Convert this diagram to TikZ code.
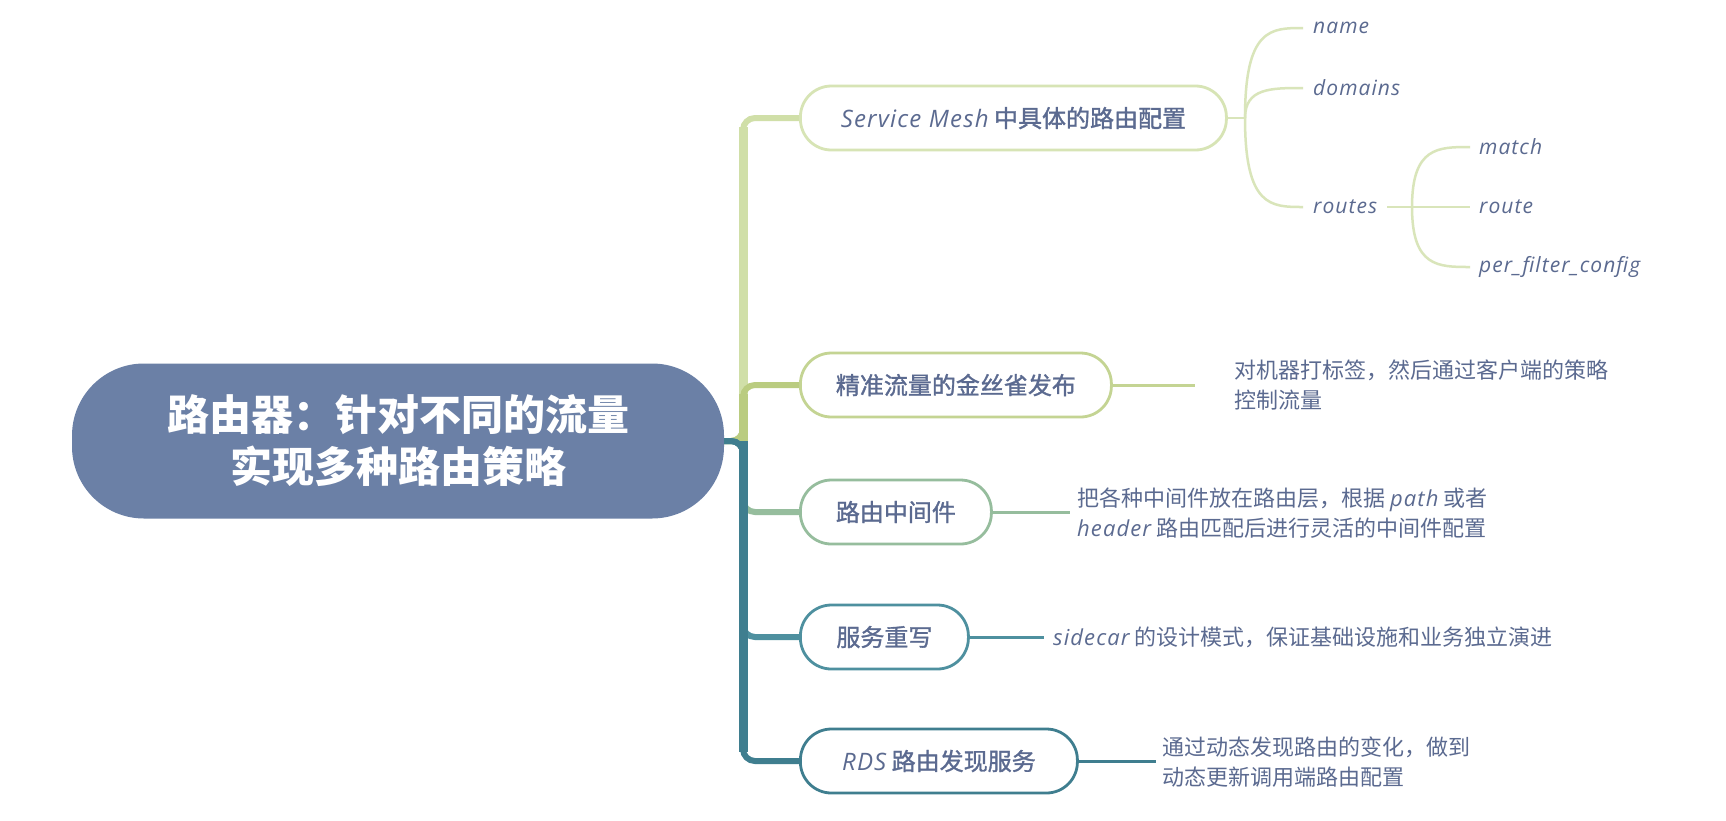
\documentclass[tikz,border=0pt]{standalone}
\usepackage{fontspec}
\setmainfont{Noto Sans CJK SC}
\newfontfamily\lblfont{Noto Sans CJK SC}[FakeBold=1.3]
\newfontfamily\latfont{Open Sans}[LetterSpace=5]
\newcommand\lat[1]{{\latfont\itshape #1}}
\definecolor{rootc}{HTML}{6B80A6}
\definecolor{txtc}{HTML}{5B6A90}
\definecolor{ca}{HTML}{D0DFA8}
\definecolor{cb}{HTML}{BACC80}
\definecolor{cc}{HTML}{96BD9D}
\definecolor{cd}{HTML}{4E909F}
\definecolor{ce}{HTML}{3F7E8F}
\definecolor{subc}{HTML}{D9E5BA}
\tikzset{
  rootbox/.style={fill=rootc, rounded corners=72pt, minimum width=652pt, minimum height=155pt,
    inner sep=0pt, text=white, align=center, font=\fontsize{42}{52}\selectfont\bfseries},
  topic/.style={draw, line width=2.8pt, fill=white, rounded corners=31pt, minimum height=64pt,
    inner sep=0pt, anchor=west, text=txtc, font=\fontsize{24}{30}\selectfont\lblfont},
  desc/.style={anchor=west, inner sep=0pt, align=left, text=txtc, font=\fontsize{22}{30}\selectfont},
  leaf/.style={anchor=west, inner xsep=10pt, inner ysep=0pt, text=txtc,
    font=\fontsize{21}{26}\selectfont\latfont\itshape},
  branch/.style={line width=6pt, rounded corners=12pt},
  trunkbar/.style={line width=9pt, shorten >=9pt},
  subline/.style={line width=2.5pt, subc},
  dline/.style={line width=3pt}
}
\begin{document}
\begin{tikzpicture}[x=1pt,y=-1pt]
\useasboundingbox[fill=white] (0,0) rectangle (1726,820);

% nodes
\node[rootbox] (root) at (398,441) {路由器：针对不同的流量\\实现多种路由策略};
\node[topic, draw=ca!85!white, minimum width=426pt] (sm) at (799,118) {\lat{Service Mesh} 中具体的路由配置};
\node[topic, draw=cb!85!white, minimum width=311pt] (cn) at (799,385) {精准流量的金丝雀发布};
\node[topic, draw=cc, minimum width=191pt] (mw) at (799,512) {路由中间件};
\node[topic, draw=cd, minimum width=168pt] (rw) at (799,637) {服务重写};
\node[topic, draw=ce, minimum width=277pt] (rds) at (799,761) {\lat{RDS} 路由发现服务};

\coordinate (tx) at (743,441);

% branches
\draw[branch, ca] (root.east) -- (tx) |- (sm.west);
\draw[trunkbar, ca] (tx) -- (tx |- sm.west);
\draw[branch, cb] (root.east) -- (tx) |- (cn.west);
\draw[trunkbar, cb] (tx) -- (tx |- cn.west);
\draw[branch, cc] (root.east) -- (tx) |- (mw.west);
\draw[trunkbar, cc] (tx) -- (tx |- mw.west);
\draw[branch, cd] (root.east) -- (tx) |- (rw.west);
\draw[trunkbar, cd] (tx) -- (tx |- rw.west);
\draw[branch, ce] (root.east) -- (tx) |- (rds.west);
\draw[trunkbar, ce] (tx) -- (tx |- rds.west);

% Service Mesh subtree
\coordinate (f1) at (1245,118);
\node[leaf] (name) at (1303,28) {name};
\node[leaf] (domains) at (1303,88) {domains};
\node[leaf] (routes) at (1303,207) {routes};
\draw[subline] (sm.east) -- (f1);
\draw[subline] (f1) .. controls (f1 |- name.west) and ([xshift=-32pt]name.west) .. (name.west);
\draw[subline] (f1) .. controls (f1 |- domains.west) and ([xshift=-32pt]domains.west) .. (domains.west);
\draw[subline] (f1) .. controls (f1 |- routes.west) and ([xshift=-32pt]routes.west) .. (routes.west);

\coordinate (f2) at (1412,207);
\node[leaf, inner xsep=9pt] (match) at (1470,147) {match};
\node[leaf, inner xsep=9pt] (route) at (1470,207) {route};
\node[leaf, inner xsep=9pt] (pfc) at (1470,267) {per\_filter\_config};
\draw[subline] (routes.east) -- (route.west);
\draw[subline] (f2) .. controls (f2 |- match.west) and ([xshift=-32pt]match.west) .. (match.west);
\draw[subline] (f2) .. controls (f2 |- pfc.west) and ([xshift=-32pt]pfc.west) .. (pfc.west);

% descriptions
\node[desc] (dcn) at (1234,385) {对机器打标签，然后通过客户端的策略\\控制流量};
\node[desc] (dmw) at (1077,513) {把各种中间件放在路由层，根据 \lat{path} 或者\\\lat{header} 路由匹配后进行灵活的中间件配置};
\node[desc] (drw) at (1053,637) {\lat{sidecar} 的设计模式，保证基础设施和业务独立演进};
\node[desc] (drds) at (1162,762) {通过动态发现路由的变化，做到\\动态更新调用端路由配置};

\draw[dline, cb!85!white, shorten >=39pt] (cn.east) -- (dcn.west);
\draw[dline, cc, shorten >=7pt] (mw.east) -- (dmw.west |- mw.east);
\draw[dline, cd, shorten >=9pt] (rw.east) -- (drw.west);
\draw[dline, ce, shorten >=6pt] (rds.east) -- (drds.west |- rds.east);
\end{tikzpicture}
\end{document}
